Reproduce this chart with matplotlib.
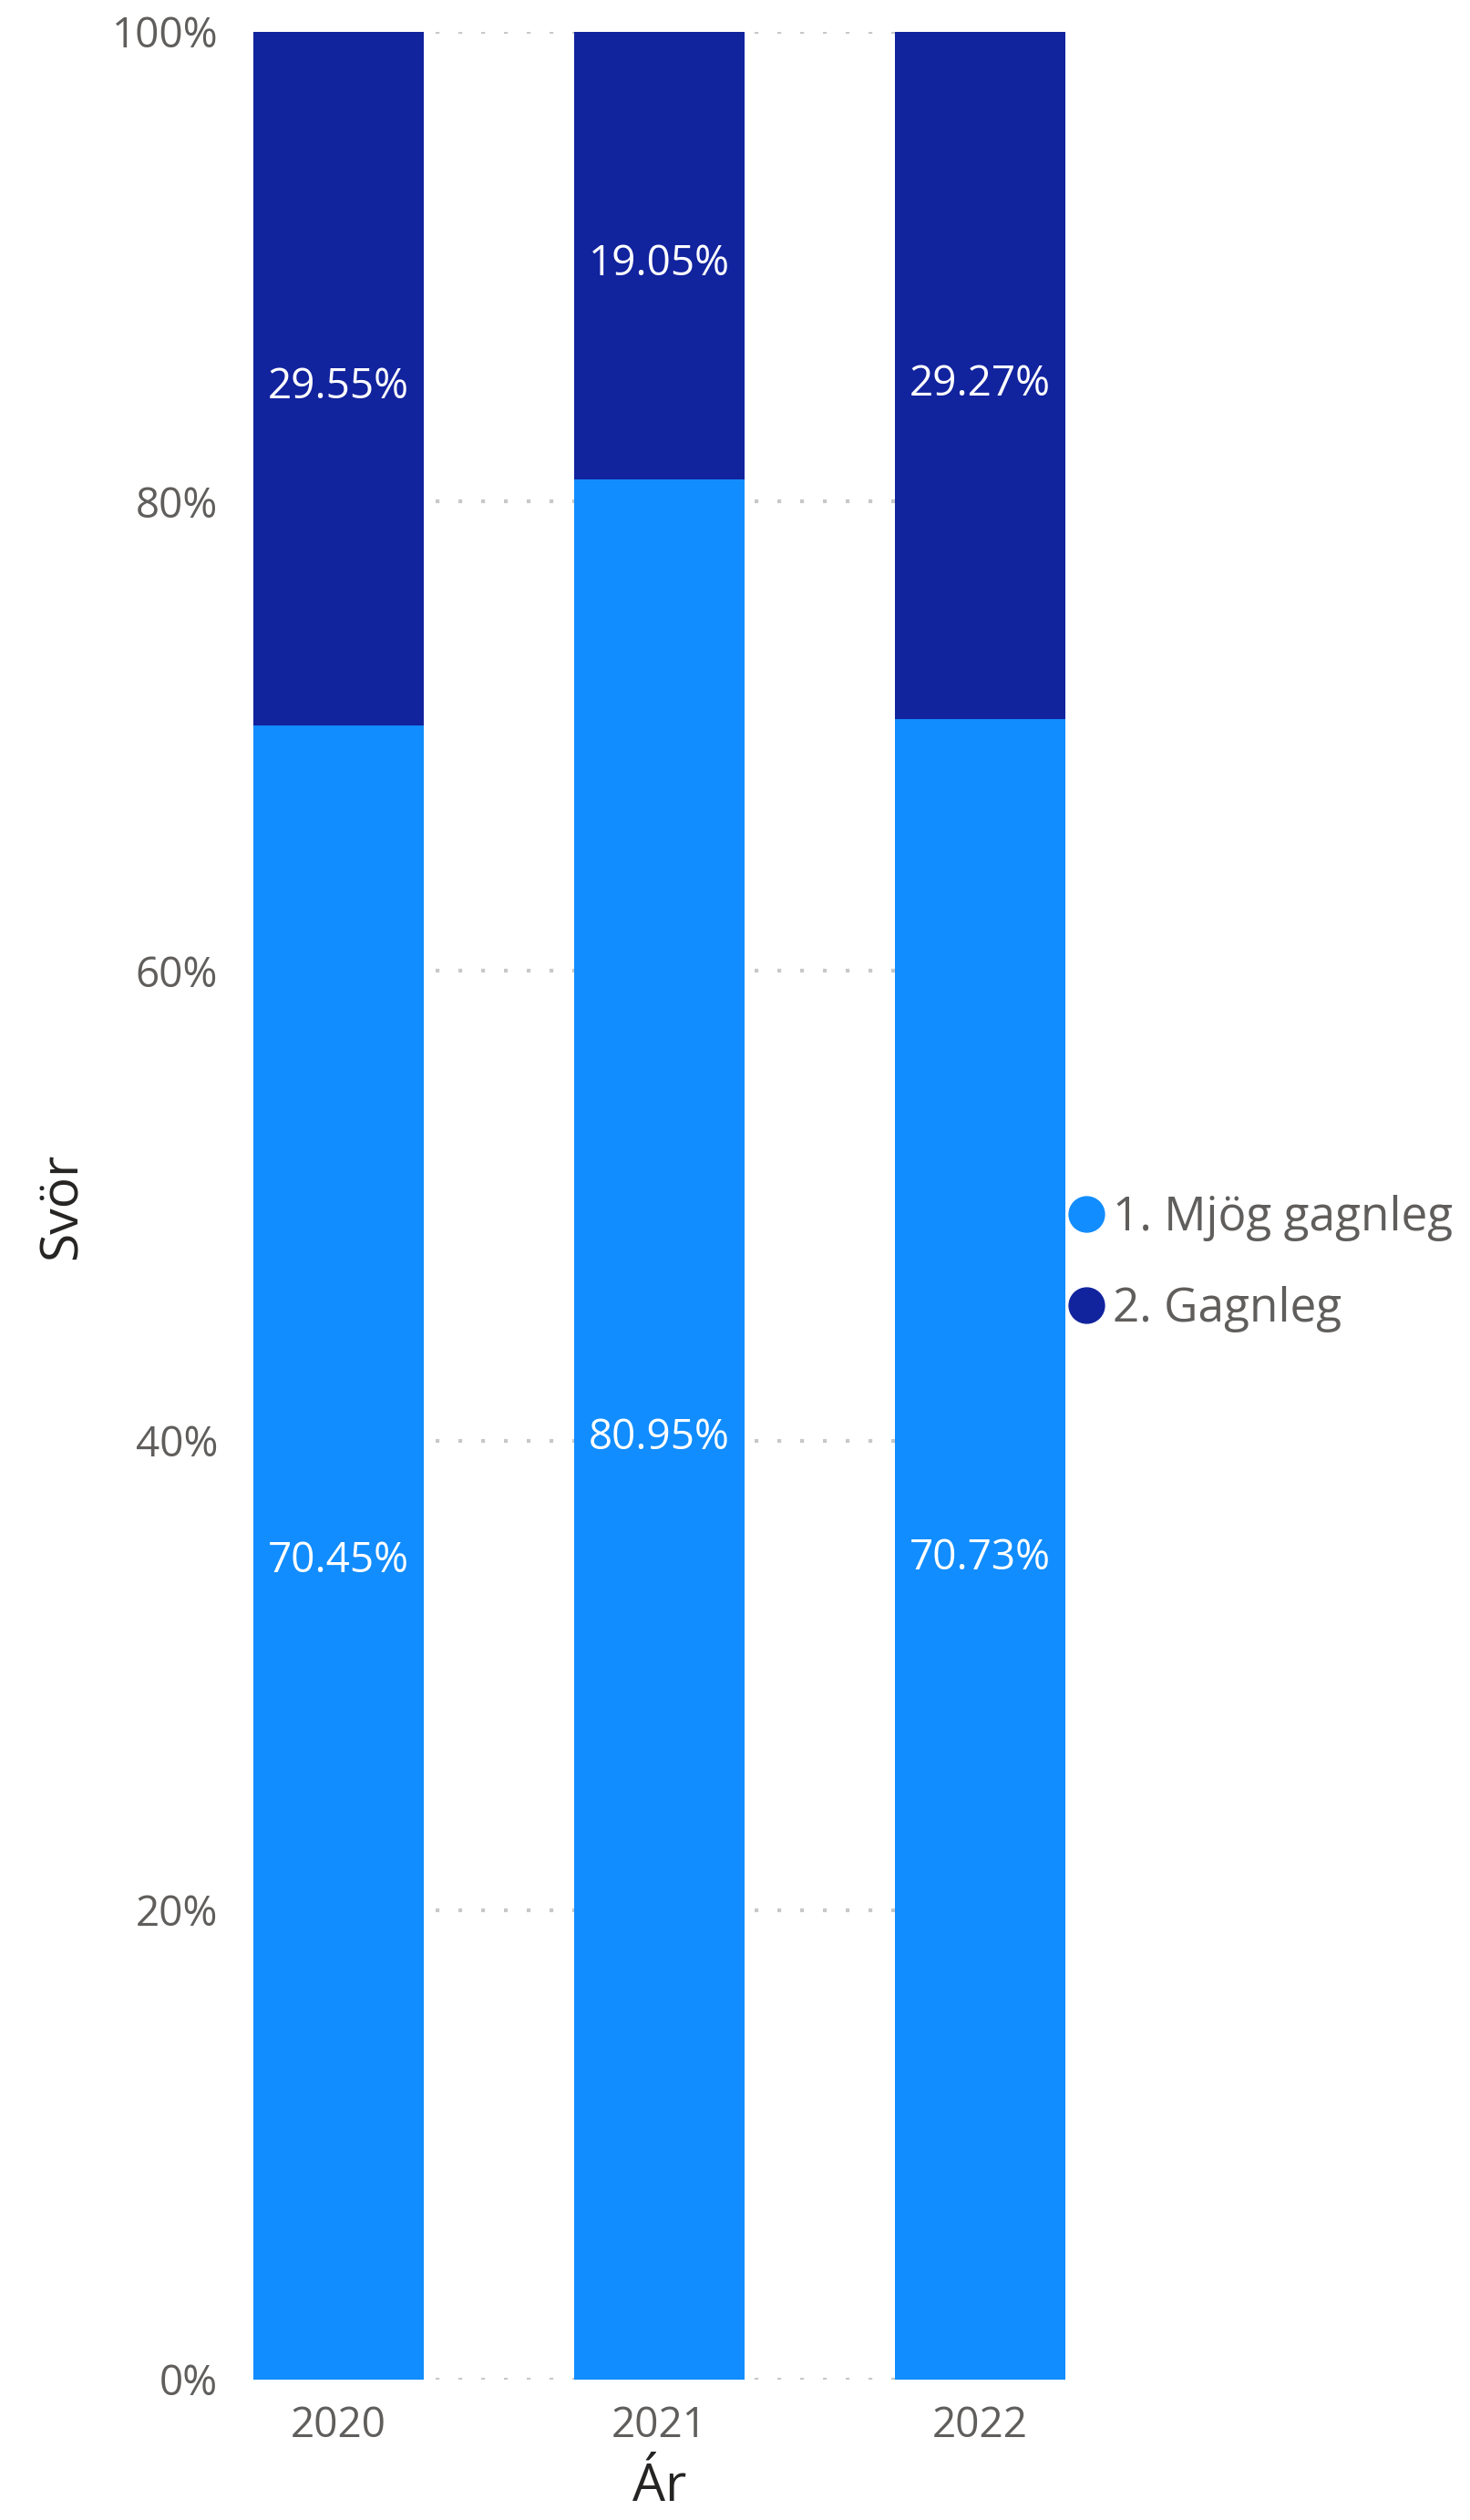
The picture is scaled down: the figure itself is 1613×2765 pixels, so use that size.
import numpy as np
import matplotlib.pyplot as plt
from matplotlib.lines import Line2D

plt.rcParams['font.family'] = ['Open Sans', 'DejaVu Sans']

years = ['2020', '2021', '2022']
mjog_gagnleg = [70.45, 80.95, 70.73]
gagnleg = [29.55, 19.05, 29.27]
series_names = ['1. Mjög gagnleg', '2. Gagnleg']
colors = ['#118DFF', '#12239E']

fig = plt.figure(figsize=(16.13, 27.65), dpi=100)
ax = fig.add_axes([278 / 1613, 1 - 2611 / 2765, (1169 - 278) / 1613, (2611 - 35) / 2765])

x = np.arange(len(years))
w = 0.533
ax.bar(x, mjog_gagnleg, width=w, color=colors[0], zorder=2)
ax.bar(x, gagnleg, width=w, bottom=mjog_gagnleg, color=colors[1], zorder=2)

# labels in the middle of each segment
for i in range(len(years)):
    ax.annotate(f'{mjog_gagnleg[i]:.2f}%', (x[i], mjog_gagnleg[i] / 2), xytext=(0, -7),
                textcoords='offset points', ha='center', va='center',
                color='white', fontsize=33, zorder=3)
    ax.annotate(f'{gagnleg[i]:.2f}%', (x[i], mjog_gagnleg[i] + gagnleg[i] / 2), xytext=(0, -7),
                textcoords='offset points', ha='center', va='center',
                color='white', fontsize=33, zorder=3)

ax.set_xlim(-w / 2, len(years) - 1 + w / 2)
ax.set_ylim(0, 100)
ax.set_yticks(np.arange(0, 101, 20))
ax.set_yticklabels([f'{v}%' for v in range(0, 101, 20)])
ax.set_xticks(x)
ax.set_xticklabels(years)
ax.yaxis.grid(True, linestyle=(0, (1, 5)), color='#C8C8C8', linewidth=3, zorder=0)
ax.set_axisbelow(True)
for s in ax.spines.values():
    s.set_visible(False)
ax.tick_params(length=0, labelsize=33, labelcolor='#605E5C')
ax.tick_params(axis='y', pad=28)
ax.tick_params(axis='x', pad=20)

ax.set_xlabel('Ár', fontsize=41, color='#252423', labelpad=12)
ax.set_ylabel('Svör', fontsize=41, color='#252423', labelpad=18)

handles = [Line2D([], [], marker='o', linestyle='', markersize=28, color=c) for c in colors]
fig.legend(handles, series_names, loc='center left', bbox_to_anchor=(0.726, 0.4987),
           frameon=False, fontsize=37, labelcolor='#605E5C', handletextpad=0.17,
           handlelength=0.8, labelspacing=0.95, borderpad=0, borderaxespad=0)

fig.savefig('out.png', dpi=100)
